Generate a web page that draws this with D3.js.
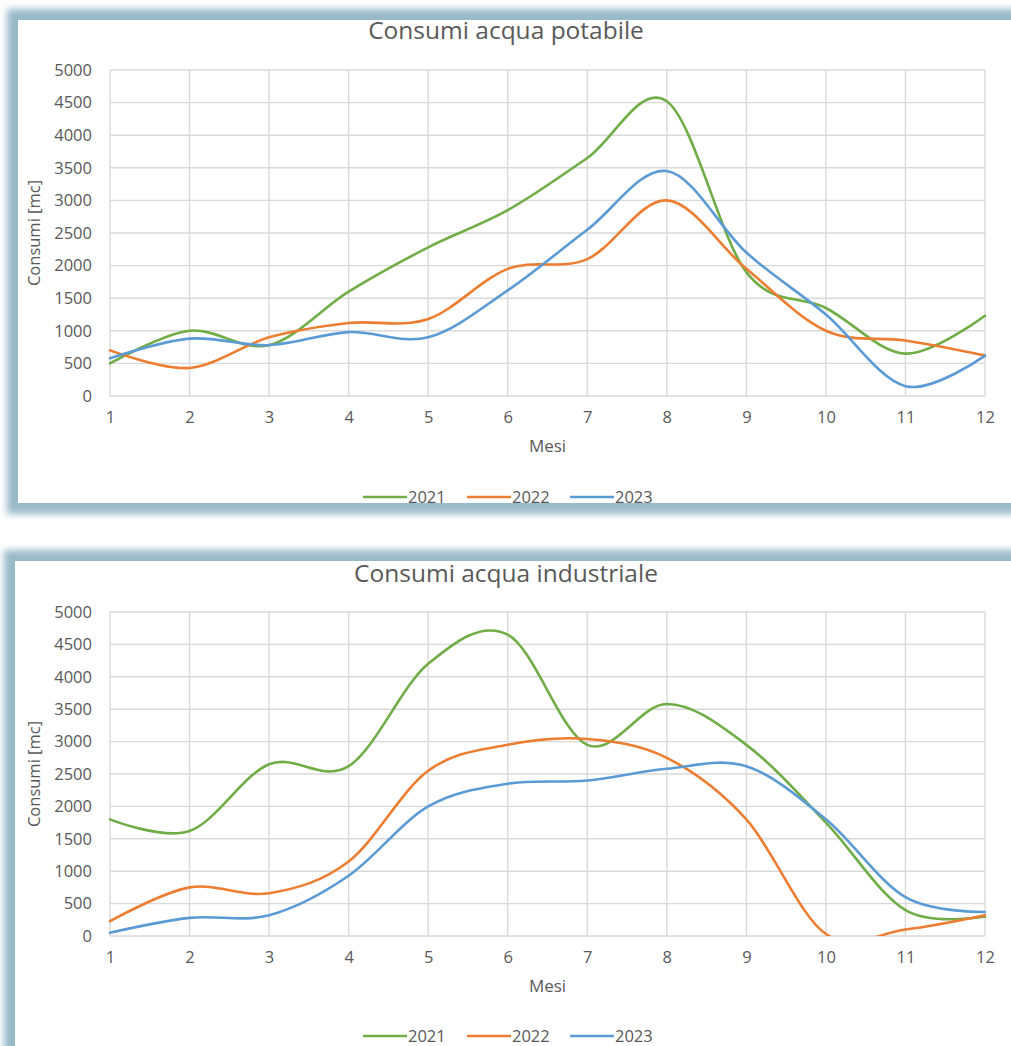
<!DOCTYPE html>
<html><head><meta charset="utf-8">
<script src="https://cdn.jsdelivr.net/npm/d3@7"></script>
<style>body{margin:0;background:#fff;} svg{display:block;}</style>
</head><body>
<svg id="c" width="1011" height="1046"></svg>
<script>
const months = [1,2,3,4,5,6,7,8,9,10,11,12];
const yTicks = [0,500,1000,1500,2000,2500,3000,3500,4000,4500,5000];
const seriesNames = ["2021","2022","2023"];
const seriesColors = ["#70ad47","#ed7d31","#5b9bd5"];

const potabile2021 = [500,1000,780,1600,2280,2850,3650,4520,1900,1350,650,1230];
const potabile2022 = [700,430,900,1120,1180,1950,2100,3000,1950,1000,850,620];
const potabile2023 = [580,880,780,980,900,1620,2550,3450,2200,1250,150,620];

const industriale2021 = [1800,1620,2650,2620,4200,4650,2950,3580,2950,1750,400,300];
const industriale2022 = [230,750,660,1150,2550,2950,3040,2750,1800,30,100,320];
const industriale2023 = [50,280,320,930,2000,2350,2400,2580,2620,1800,600,370];

const svg = d3.select("#c");
const defs = svg.append("defs");
const blur = defs.append("filter").attr("id","blur").attr("x","-10%").attr("y","-10%").attr("width","120%").attr("height","120%");
blur.append("feGaussianBlur").attr("stdDeviation",3.5);

const font = "'Open Sans', sans-serif";
const txt = "#595959";

function panel(cfg){
  const g = svg.append("g");
  g.append("rect").attr("x",cfg.fx).attr("y",cfg.fy).attr("width",cfg.fw).attr("height",cfg.fh)
    .attr("fill","none").attr("stroke","#98b9c8").attr("stroke-width",22).attr("filter","url(#blur)");
  g.append("rect").attr("x",cfg.fx).attr("y",cfg.fy).attr("width",cfg.fw).attr("height",cfg.fh)
    .attr("fill","#fff");

  const x = d3.scaleLinear().domain([1,12]).range([110,985]);
  const y = d3.scaleLinear().domain([0,5000]).range([cfg.pb, cfg.pt]);

  const clipId = "clip"+cfg.id;
  defs.append("clipPath").attr("id",clipId).append("rect")
    .attr("x",108).attr("y",cfg.pt-2).attr("width",880).attr("height",cfg.pb-cfg.pt+2);

  g.append("g").selectAll("line").data(yTicks).join("line")
    .attr("x1",x(1)).attr("x2",x(12)).attr("y1",d=>y(d)).attr("y2",d=>y(d))
    .attr("stroke","#d9d9d9").attr("stroke-width",1.4);
  g.append("g").selectAll("line").data(months).join("line")
    .attr("x1",d=>x(d)).attr("x2",d=>x(d)).attr("y1",y(0)).attr("y2",y(5000))
    .attr("stroke","#d9d9d9").attr("stroke-width",1.4);

  const ya = d3.axisLeft(y).tickValues(yTicks).tickSize(0).tickPadding(18).tickFormat(d3.format("d"));
  const yg = g.append("g").attr("transform",`translate(${x(1)},0)`).call(ya);
  yg.select(".domain").remove();
  yg.selectAll("text").attr("font-family",font).attr("font-size",16.5).attr("fill",txt);

  const xa = d3.axisBottom(x).tickValues(months).tickSize(0).tickPadding(15).tickFormat(d3.format("d"));
  const xg = g.append("g").attr("transform",`translate(0,${y(0)})`).call(xa);
  xg.select(".domain").remove();
  xg.selectAll("text").attr("font-family",font).attr("font-size",16.5).attr("fill",txt);

  g.append("text").attr("x",cfg.tx).attr("y",cfg.ty).attr("text-anchor","middle")
    .attr("font-family",font).attr("font-size",24.5).attr("fill",txt).text(cfg.title);
  g.append("text").attr("x",(x(1)+x(12))/2).attr("y",y(0)+56).attr("text-anchor","middle")
    .attr("font-family",font).attr("font-size",17).attr("fill",txt).text("Mesi");
  g.append("text").attr("transform",`translate(40,${(y(0)+y(5000))/2}) rotate(-90)`).attr("text-anchor","middle")
    .attr("font-family",font).attr("font-size",16.5).attr("fill",txt).text("Consumi [mc]");

  const line = d3.line().x((d,i)=>x(months[i])).y(d=>y(d)).curve(d3.curveCatmullRom.alpha(0));
  const lg = g.append("g").attr("clip-path",`url(#${clipId})`);
  cfg.data.forEach((s,i)=>{
    lg.append("path").attr("d",line(s)).attr("fill","none").attr("stroke",seriesColors[i])
      .attr("stroke-width",2.6).attr("stroke-linecap","round");
  });

  const lx = [363,467,570];
  seriesNames.forEach((n,i)=>{
    g.append("line").attr("x1",lx[i]).attr("x2",lx[i]+44).attr("y1",cfg.ly).attr("y2",cfg.ly)
      .attr("stroke",seriesColors[i]).attr("stroke-width",2.6);
    g.append("text").attr("x",lx[i]+45).attr("y",cfg.ly+6).attr("font-family",font)
      .attr("font-size",16.5).attr("fill",txt).text(n);
  });
}

panel({id:1, fx:18, fy:20, fw:1020, fh:483, pt:70, pb:396, tx:506, ty:39,
  title:"Consumi acqua potabile", ly:497, data:[potabile2021,potabile2022,potabile2023]});
panel({id:2, fx:15, fy:561, fw:1020, fh:500, pt:612, pb:936, tx:506, ty:582,
  title:"Consumi acqua industriale", ly:1036, data:[industriale2021,industriale2022,industriale2023]});
</script>
</body></html>
